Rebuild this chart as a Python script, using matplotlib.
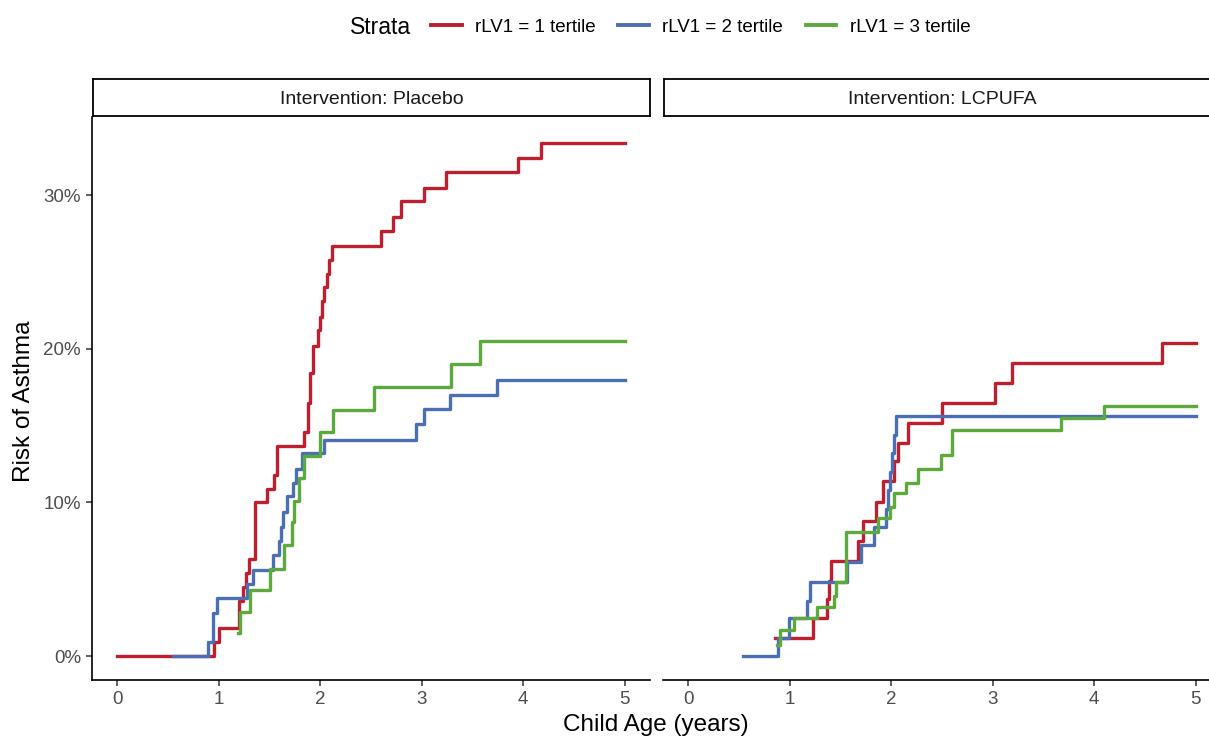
import matplotlib
matplotlib.use("Agg")
import matplotlib.pyplot as plt
from matplotlib.lines import Line2D
from matplotlib.ticker import PercentFormatter

plt.rcParams['font.family'] = ['Liberation Sans', 'DejaVu Sans']

# strata and panels
strata = ["rLV1 = 1 tertile", "rLV1 = 2 tertile", "rLV1 = 3 tertile"]
colors = ["#BE1E2D", "#4A6FB5", "#5CA93D"]
panels = ["Intervention: Placebo", "Intervention: LCPUFA"]

# cumulative risk (%), placebo panel
pl_red_t = [0, 0.95, 1.0, 1.2, 1.24, 1.27, 1.3, 1.36, 1.47, 1.54, 1.57, 1.84, 1.88, 1.9, 1.93,
            1.98, 2.0, 2.02, 2.04, 2.07, 2.09, 2.12, 2.6, 2.72, 2.8, 3.02, 3.24, 3.95, 4.18, 5.0]
pl_red_r = [0, 0.9, 1.8, 3.6, 4.5, 5.4, 6.3, 10.0, 10.9, 11.8, 13.7, 14.6, 16.5, 18.4, 20.2,
            21.2, 22.1, 23.1, 24.0, 24.9, 25.8, 26.7, 27.7, 28.6, 29.6, 30.5, 31.5, 32.4, 33.4, 33.4]
pl_blue_t = [0.55, 0.89, 0.94, 0.98, 1.28, 1.34, 1.53, 1.59, 1.61, 1.63, 1.67, 1.73, 1.76, 1.82,
             2.04, 2.94, 3.02, 3.28, 3.74, 5.0]
pl_blue_r = [0, 0.9, 2.8, 3.8, 4.7, 5.6, 6.6, 7.5, 8.4, 9.4, 10.4, 11.3, 12.2, 13.2,
             14.1, 15.1, 16.1, 17.0, 18.0, 18.0]
pl_green_t = [1.19, 1.21, 1.31, 1.5, 1.64, 1.72, 1.74, 1.79, 1.84, 2.0, 2.13, 2.53, 3.29, 3.57, 5.0]
pl_green_r = [1.5, 2.9, 4.3, 5.7, 7.2, 8.7, 10.1, 11.6, 13.0, 14.6, 16.0, 17.5, 19.0, 20.5, 20.5]

# LCPUFA panel
lc_red_t = [0.85, 1.23, 1.37, 1.39, 1.41, 1.67, 1.72, 1.85, 1.92, 2.03, 2.07, 2.16, 2.5, 3.02,
            3.19, 4.67, 5.0]
lc_red_r = [1.2, 2.5, 3.7, 4.9, 6.2, 7.5, 8.8, 10.0, 11.4, 12.7, 13.9, 15.2, 16.5, 17.8,
            19.1, 20.4, 20.4]
lc_blue_t = [0.54, 0.88, 0.99, 1.17, 1.2, 1.56, 1.7, 1.83, 1.95, 1.97, 1.99, 2.01, 2.03, 2.05, 5.0]
lc_blue_r = [0, 1.2, 2.5, 3.6, 4.8, 6.1, 7.2, 8.4, 9.6, 10.8, 12.0, 13.2, 14.4, 15.6, 15.6]
lc_green_t = [0.87, 0.9, 1.04, 1.27, 1.44, 1.46, 1.55, 1.87, 1.99, 2.03, 2.15, 2.26, 2.49, 2.6,
              3.67, 4.1, 5.0]
lc_green_r = [0.7, 1.7, 2.5, 3.2, 3.9, 4.8, 8.1, 9.0, 9.7, 10.6, 11.3, 12.2, 13.1, 14.7,
              15.5, 16.3, 16.3]

curves = [
    [(pl_red_t, pl_red_r), (pl_blue_t, pl_blue_r), (pl_green_t, pl_green_r)],
    [(lc_red_t, lc_red_r), (lc_blue_t, lc_blue_r), (lc_green_t, lc_green_r)],
]

W, H = 1209, 740
fig = plt.figure(figsize=(W / 100, H / 100), dpi=100)

ax_w = (650 - 92) / W
ax_b = 1 - 680 / H
ax_h = (680 - 117) / H
lefts = [92 / W, 663 / W]

tick_col = "#4D4D4D"
for i, left in enumerate(lefts):
    ax = fig.add_axes([left, ax_b, ax_w, ax_h])
    for (t, r), c in zip(curves[i], colors):
        ax.step(t, [v / 100 for v in r], where="post", color=c, lw=2.4)
    ax.set_xlim(-0.25, 5.25)
    ax.set_ylim(-0.0156, 0.351)
    ax.set_xticks([0, 1, 2, 3, 4, 5])
    ax.set_yticks([0, 0.1, 0.2, 0.3])
    ax.yaxis.set_major_formatter(PercentFormatter(1.0, decimals=0))
    for s in ["top", "right"]:
        ax.spines[s].set_visible(False)
    ax.spines["bottom"].set_linewidth(1.2)
    ax.spines["left"].set_linewidth(1.2)
    ax.tick_params(length=4, width=1.1, color="#333333", labelcolor=tick_col,
                   labelsize=13.5, pad=4)
    if i == 1:
        ax.spines["left"].set_visible(False)
        ax.tick_params(axis="y", left=False, labelleft=False)

    # facet strip
    sx = fig.add_axes([left + 1 / W, 1 - 116 / H, ax_w - 1 / W, 37 / H])
    sx.set_xticks([])
    sx.set_yticks([])
    for s in sx.spines.values():
        s.set_linewidth(1.3)
    sx.text(0.5, 0.45, panels[i], ha="center", va="center", fontsize=14, color="#1A1A1A",
            transform=sx.transAxes)

fig.text(24 / W, 1 - 401 / H, "Risk of Asthma", rotation=90, ha="center", va="center",
         fontsize=17.5)
fig.text(656 / W, 1 - 725 / H, "Child Age (years)", ha="center", va="center", fontsize=17.5)

# legend on top
fig.text(350 / W, 1 - 27 / H, "Strata", ha="left", va="center", fontsize=16.5)
handles = [Line2D([], [], color=c, lw=2.8) for c in colors]
fig.legend(handles, strata, loc="center left", bbox_to_anchor=(431 / W, 1 - 27 / H),
           ncol=3, frameon=False, fontsize=13.5, handlelength=1.65, handletextpad=0.7,
           columnspacing=1.2, borderpad=0, borderaxespad=0)

fig.savefig("out.png", dpi=100)
